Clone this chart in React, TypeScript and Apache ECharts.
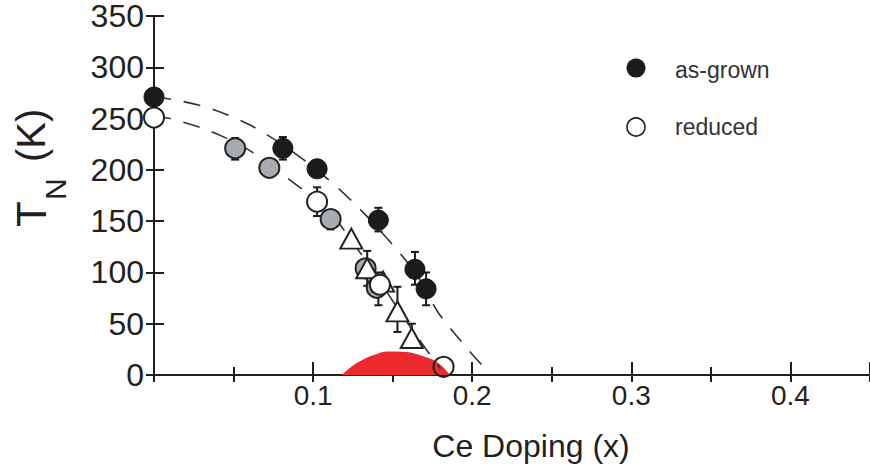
import React, { useEffect, useRef } from "react";
import * as echarts from "echarts";

// ---- data ----
const asGrownX = [0, 0.081, 0.1025, 0.141, 0.164, 0.171];
const asGrownT = [271, 221, 201, 151, 103, 84];
const reducedX = [0, 0.1025, 0.142, 0.182];
const reducedT = [251, 169, 88, 8];
const greyX = [0.051, 0.0725, 0.111, 0.133, 0.14];
const greyT = [221, 202, 152, 104, 85];
const triX = [0.124, 0.134, 0.144, 0.153, 0.162];
const triT = [133, 104, 91, 62, 36];

const errX = [0.051, 0.081, 0.1025, 0.111, 0.134, 0.141, 0.141, 0.153, 0.162, 0.164, 0.171];
const errLo = [210, 210, 155, 142, 87, 68, 140, 42, 28, 88, 68];
const errHi = [231, 232, 183, 160, 121, 100, 163, 86, 50, 120, 100];

const upperX = [0, 0.014, 0.035, 0.06, 0.085, 0.107, 0.126, 0.146, 0.165, 0.179, 0.199, 0.206];
const upperT = [271, 268, 260, 244, 220, 194, 167, 134, 98, 60, 22, 10];
const lowerX = [0, 0.01, 0.035, 0.06, 0.083, 0.11, 0.12, 0.135, 0.151, 0.166, 0.18];
const lowerT = [252, 250, 238, 219, 193, 160, 140, 107, 70, 36, 6];

const domeX = [0.118, 0.124, 0.13, 0.138, 0.1475, 0.158, 0.1725, 0.18, 0.186];
const domeT = [0, 8, 14, 19.5, 23, 22.5, 16.5, 10, 0];

const yTicks = [0, 50, 100, 150, 200, 250, 300, 350];
const xTickLabels = ["0.1", "0.2", "0.3", "0.4"];
const legendNames = ["as-grown", "reduced"];

const INK = "#231f20";
const FONT = "Liberation Sans, Arial, sans-serif";

const zip = (xs: number[], ys: number[]) => xs.map((x, i) => [x, ys[i]]);

export default function App() {
  const ref = useRef<HTMLDivElement>(null);
  useEffect(() => {
    if (!ref.current) return;
    const chart = echarts.init(ref.current, undefined, { renderer: "svg" });
    const lastReduced = reducedX.length - 1;
    const option: any = {
      animation: false,
      backgroundColor: "#ffffff",
      grid: { left: 154, top: 15, width: 720, height: 360 },
      xAxis: [
        {
          type: "value",
          min: 0,
          max: 0.45,
          interval: 0.1,
          position: "bottom",
          axisLine: { show: true, lineStyle: { color: INK, width: 2 } },
          axisTick: { show: true, inside: true, length: 13, lineStyle: { color: INK, width: 2 } },
          minorTick: { show: true, splitNumber: 2, length: 8, lineStyle: { color: INK, width: 2 } },
          splitLine: { show: false },
          axisLabel: {
            show: true,
            margin: 6,
            fontSize: 28,
            fontFamily: FONT,
            color: INK,
            showMinLabel: false,
            showMaxLabel: false,
            formatter: (v: number) => {
              const s = v.toFixed(1);
              return xTickLabels.indexOf(s) >= 0 ? s : "";
            },
          },
        },
        {
          type: "value",
          min: 0,
          max: 0.45,
          interval: 0.05,
          position: "top",
          axisLine: { show: true, lineStyle: { color: INK, width: 2 } },
          axisTick: { show: true, inside: true, length: 7, lineStyle: { color: INK, width: 2 } },
          splitLine: { show: false },
          axisLabel: { show: false },
        },
      ],
      yAxis: [
        {
          type: "value",
          min: 0,
          max: 350,
          interval: 50,
          position: "left",
          axisLine: { show: true, lineStyle: { color: INK, width: 2 } },
          axisTick: { show: true, inside: true, length: 10, lineStyle: { color: INK, width: 2 } },
          splitLine: { show: false },
          axisLabel: {
            show: true,
            margin: 10,
            fontSize: 32,
            lineHeight: 26,
            fontFamily: FONT,
            color: INK,
            formatter: (v: number) => (yTicks.indexOf(v) >= 0 ? String(v) : ""),
          },
        },
        {
          type: "value",
          min: 0,
          max: 350,
          interval: 50,
          position: "right",
          axisLine: { show: true, lineStyle: { color: INK, width: 2 } },
          axisTick: { show: true, inside: true, length: 8, lineStyle: { color: INK, width: 2 } },
          splitLine: { show: false },
          axisLabel: { show: false },
        },
      ],
      series: [
        {
          name: "dome",
          type: "line",
          z: 1,
          data: zip(domeX, domeT),
          smooth: 0.4,
          showSymbol: false,
          lineStyle: { width: 0, color: "#ec2a2e" },
          itemStyle: { color: "#ec2a2e" },
          areaStyle: { color: "#ec2a2e", opacity: 1 },
        },
        {
          name: "upper fit",
          type: "line",
          z: 2,
          data: zip(upperX, upperT),
          smooth: 0.3,
          showSymbol: false,
          lineStyle: { color: "#333", width: 1.6, type: [17, 13] },
        },
        {
          name: "lower fit",
          type: "line",
          z: 2,
          data: zip(lowerX, lowerT),
          smooth: 0.3,
          showSymbol: false,
          lineStyle: { color: "#333", width: 1.6, type: [17, 13] },
        },
        {
          name: "errors",
          type: "custom",
          z: 3,
          data: errX.map((x, i) => [x, errLo[i], errHi[i]]),
          encode: { x: 0, y: [1, 2] },
          renderItem: (params: any, api: any) => {
            const x = api.value(0);
            const p1 = api.coord([x, api.value(1)]);
            const p2 = api.coord([x, api.value(2)]);
            const st = { stroke: "#1a1a1a", lineWidth: 2 };
            const cw = 4;
            return {
              type: "group",
              children: [
                { type: "line", shape: { x1: p1[0], y1: p1[1], x2: p2[0], y2: p2[1] }, style: st },
                { type: "line", shape: { x1: p1[0] - cw, y1: p1[1], x2: p1[0] + cw, y2: p1[1] }, style: st },
                { type: "line", shape: { x1: p2[0] - cw, y1: p2[1], x2: p2[0] + cw, y2: p2[1] }, style: st },
              ],
            };
          },
        },
        {
          name: "grey",
          type: "scatter",
          z: 4,
          data: zip(greyX, greyT),
          symbol: "circle",
          symbolSize: 20,
          itemStyle: { color: "#a8acb1", borderColor: "#222", borderWidth: 2, opacity: 1 },
        },
        {
          name: "triangles",
          type: "scatter",
          z: 5,
          data: zip(triX, triT),
          symbol: "triangle",
          symbolSize: [22, 20],
          itemStyle: { color: "#ffffff", borderColor: "#222", borderWidth: 2, opacity: 1 },
        },
        {
          name: legendNames[1],
          type: "scatter",
          z: 6,
          data: reducedX.map((x, i) =>
            i === lastReduced
              ? { value: [x, reducedT[i]], itemStyle: { color: "rgba(255,255,255,0)" } }
              : [x, reducedT[i]]
          ),
          symbol: "circle",
          symbolSize: 20,
          itemStyle: { color: "#ffffff", borderColor: "#222", borderWidth: 2, opacity: 1 },
        },
        {
          name: legendNames[0],
          type: "scatter",
          z: 7,
          data: zip(asGrownX, asGrownT),
          symbol: "circle",
          symbolSize: 20,
          itemStyle: { color: "#1c1c1c", borderColor: "#111", borderWidth: 1, opacity: 1 },
        },
      ],
      graphic: [
        {
          type: "group",
          x: 31,
          y: 227,
          rotation: Math.PI / 2,
          children: [
            {
              type: "text",
              x: 0,
              y: 0,
              style: { text: "T", fontSize: 42, fontFamily: FONT, fill: INK, align: "left", verticalAlign: "middle" },
            },
            {
              type: "text",
              x: 27,
              y: 24,
              style: { text: "N", fontSize: 30, fontFamily: FONT, fill: INK, align: "left", verticalAlign: "middle" },
            },
            {
              type: "text",
              x: 65,
              y: 0,
              style: { text: "(K)", fontSize: 40, fontFamily: FONT, fill: INK, align: "left", verticalAlign: "middle" },
            },
          ],
        },
        {
          type: "text",
          x: 531,
          y: 446,
          style: { text: "Ce Doping (x)", fontSize: 32, fontFamily: FONT, fill: INK, align: "center", verticalAlign: "middle" },
        },
        { type: "circle", shape: { cx: 636, cy: 68, r: 9.5 }, style: { fill: "#1c1c1c" } },
        { type: "circle", shape: { cx: 636, cy: 127, r: 9 }, style: { fill: "#ffffff", stroke: "#222", lineWidth: 1.6 } },
        {
          type: "text",
          x: 675,
          y: 70,
          style: { text: legendNames[0], fontSize: 23, fontFamily: FONT, fill: "#333", align: "left", verticalAlign: "middle" },
        },
        {
          type: "text",
          x: 675,
          y: 127,
          style: { text: legendNames[1], fontSize: 23, fontFamily: FONT, fill: "#333", align: "left", verticalAlign: "middle" },
        },
      ],
    };
    chart.setOption(option);
    return () => chart.dispose();
  }, []);
  return (
    <div
      ref={ref}
      style={{ position: "absolute", left: 0, top: 0, width: 870, height: 471, background: "#fff" }}
    />
  );
}
